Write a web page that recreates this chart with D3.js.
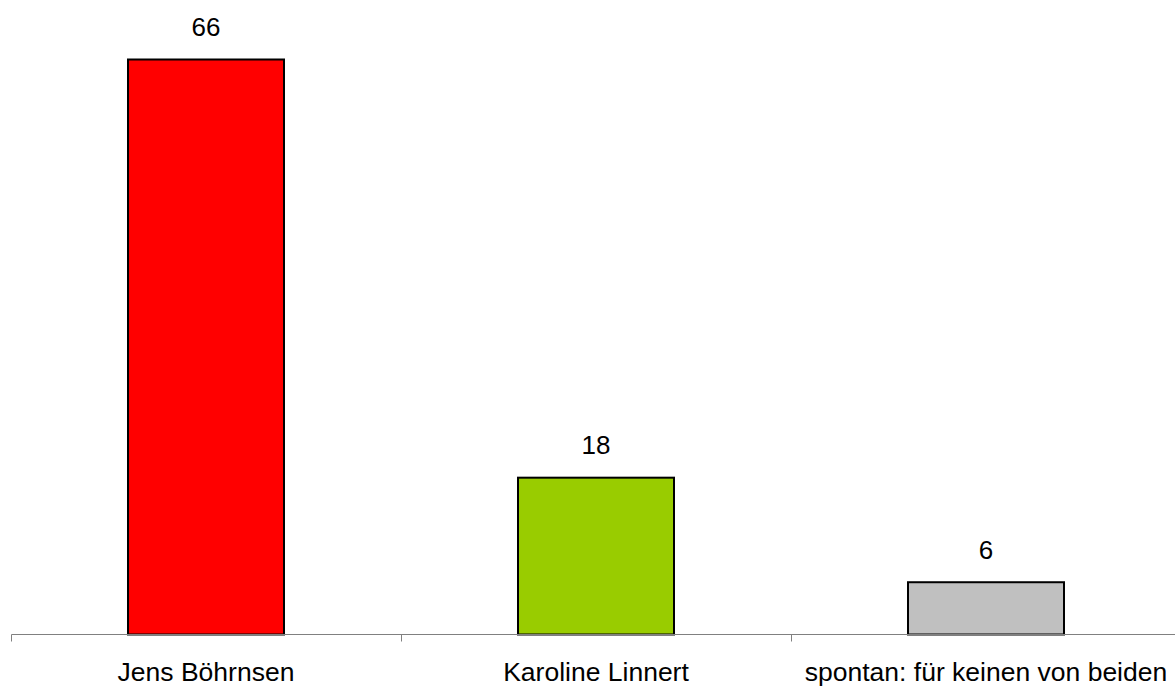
<!DOCTYPE html>
<html><head><meta charset="utf-8">
<script src="https://cdn.jsdelivr.net/npm/d3@7"></script>
<style>html,body{margin:0;padding:0;background:#fff;}svg{display:block;}</style>
</head><body>
<svg id="c" width="1175" height="686"></svg>
<script>
const categories = ["Jens Böhrnsen", "Karoline Linnert", "spontan: für keinen von beiden"];
const values = [66, 18, 6];
const colors = ["#FF0000", "#99CC00", "#C0C0C0"];

const svg = d3.select("#c");
const x = d3.scaleBand().domain(categories).range([11.5, 1181.5]).paddingInner(0).paddingOuter(0);
const y = d3.scaleLinear().domain([0, 66]).range([634.5, 59.5]);
const barW = 156;
const font = "Liberation Sans, Arial, sans-serif";

// bars
svg.selectAll("rect.bar").data(categories).enter().append("rect")
  .attr("class", "bar")
  .attr("x", d => x(d) + x.bandwidth() / 2 - barW / 2 - 0.5)
  .attr("y", (d, i) => y(values[i]))
  .attr("width", barW)
  .attr("height", (d, i) => y(0) - y(values[i]))
  .attr("fill", (d, i) => colors[i])
  .attr("stroke", "#000").attr("stroke-width", 2);

// axis
const axisG = svg.append("g").attr("transform", `translate(0,${y(0)})`);
axisG.append("line").attr("x1", 11.5).attr("x2", 1175).attr("y1", 0).attr("y2", 0)
  .attr("stroke", "#808080").attr("stroke-width", 1);
axisG.selectAll("line.tick").data(categories).enter().append("line")
  .attr("class", "tick")
  .attr("x1", d => x(d)).attr("x2", d => x(d))
  .attr("y1", 0).attr("y2", 7).attr("stroke", "#808080").attr("stroke-width", 1);

// category labels
svg.selectAll("text.cat").data(categories).enter().append("text")
  .attr("class", "cat")
  .attr("x", d => x(d) + x.bandwidth() / 2 - 0.5)
  .attr("y", 681)
  .attr("text-anchor", "middle")
  .attr("font-family", font)
  .attr("font-size", 26.5).attr("fill", "#000")
  .text(d => d);

// value labels
svg.selectAll("text.val").data(categories).enter().append("text")
  .attr("class", "val")
  .attr("x", d => x(d) + x.bandwidth() / 2 - 0.5)
  .attr("y", (d, i) => y(values[i]) - 23.5)
  .attr("text-anchor", "middle")
  .attr("font-family", font)
  .attr("font-size", 26).attr("fill", "#000")
  .text((d, i) => values[i]);
</script>
</body></html>
